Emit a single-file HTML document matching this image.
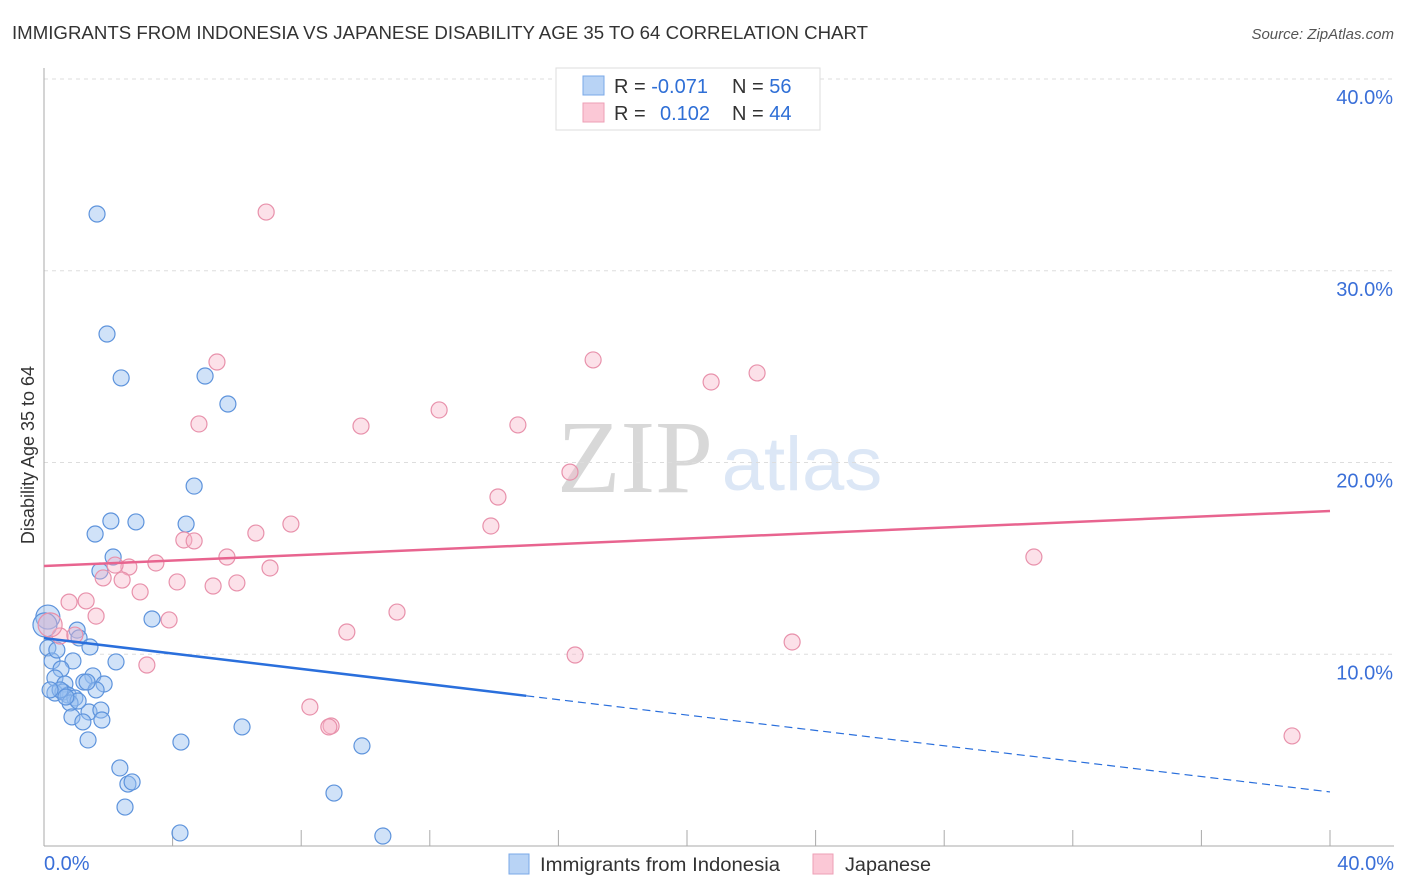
<!DOCTYPE html>
<html><head><meta charset="utf-8"><style>
body{margin:0;background:#fff;font-family:"Liberation Sans",sans-serif;}
svg{display:block}
</style></head><body>
<svg id="chart" width="1406" height="892" xmlns="http://www.w3.org/2000/svg">
<text x="12" y="39" font-size="18" fill="#333" textLength="856" lengthAdjust="spacingAndGlyphs">IMMIGRANTS FROM INDONESIA VS JAPANESE DISABILITY AGE 35 TO 64 CORRELATION CHART</text>
<text x="1394" y="39" font-size="15" fill="#555" font-style="italic" text-anchor="end">Source: ZipAtlas.com</text>
<text x="34" y="455" font-size="18" fill="#333" text-anchor="middle" transform="rotate(-90 34 455)">Disability Age 35 to 64</text>
<text x="635" y="492" font-size="104" fill="#d8d8d8" font-family="Liberation Serif,serif" text-anchor="middle">ZIP</text>
<text x="802" y="490" font-size="76" fill="#dce7f6" text-anchor="middle">atlas</text>
<g id="grid"></g><g id="axes"></g><g id="pts"></g><g id="lines"></g>
<g>
<rect x="556" y="68" width="264" height="62" fill="#fff" stroke="#ddd"/>
<rect x="583" y="76" width="21" height="19" fill="#b8d3f5" stroke="#7aa8e8"/>
<rect x="583" y="103" width="21" height="19" fill="#fbc8d6" stroke="#ee9fb6"/>
<text x="614" y="93" font-size="20" fill="#333">R = <tspan fill="#2f6fd6">-0.071</tspan></text>
<text x="732" y="93" font-size="20" fill="#333">N = <tspan fill="#2f6fd6">56</tspan></text>
<text x="614" y="120" font-size="20" fill="#333">R = <tspan fill="#2f6fd6" x="660">0.102</tspan></text>
<text x="732" y="120" font-size="20" fill="#333">N = <tspan fill="#2f6fd6">44</tspan></text>
</g>
<g>
<rect x="509" y="854" width="20" height="20" fill="#b8d3f5" stroke="#7aa8e8"/>
<text x="540" y="871" font-size="19" fill="#333" textLength="240" lengthAdjust="spacingAndGlyphs">Immigrants from Indonesia</text>
<rect x="813" y="854" width="20" height="20" fill="#fbc8d6" stroke="#ee9fb6"/>
<text x="845" y="871" font-size="19" fill="#333" textLength="86" lengthAdjust="spacingAndGlyphs">Japanese</text>
</g>
</svg>
<script>
const yTicks=[10,20,30,40];
const xTickLabels=["0.0%","40.0%"];
const blueX=[1.65,1.96,2.40,5.01,5.72,4.67,2.08,2.86,1.59,4.42,2.15,1.74,3.36,0.12,1.03,1.09,1.43,0.12,0.25,0.90,2.24,0.53,0.34,1.52,0.65,1.24,1.87,0.34,0.59,0.75,1.62,0.96,0.81,1.40,1.77,0.87,1.21,1.80,1.37,4.26,6.16,9.89,2.36,2.61,2.74,2.52,9.02,4.23,10.54,0.50,0.03,0.40,1.34,1.06,0.68,0.19];
const blueY=[32.96,26.70,24.41,24.51,23.05,18.77,16.95,16.90,16.27,16.79,15.07,14.34,11.84,11.94,11.26,10.85,10.38,10.33,9.65,9.65,9.60,9.23,8.76,8.87,8.45,8.55,8.45,7.98,8.03,7.87,8.14,7.72,7.46,6.99,7.09,6.73,6.47,6.57,5.53,5.42,6.21,5.22,4.07,3.23,3.34,2.03,2.76,0.68,0.52,8.14,11.53,10.22,8.55,7.56,7.77,8.14];
const pinkX=[6.91,5.38,17.08,22.18,20.75,12.29,4.82,9.86,14.74,16.36,14.12,13.90,7.68,6.59,4.35,4.67,5.69,3.48,2.64,1.84,2.43,4.14,5.26,6.00,7.03,2.99,30.79,0.78,1.31,1.62,3.89,10.98,9.42,0.50,0.19,23.27,16.52,3.20,8.27,8.93,8.86,38.82,0.96,2.21];
const pinkY=[33.06,25.24,25.35,24.67,24.20,22.74,22.01,21.90,21.96,19.50,18.20,16.69,16.79,16.32,15.96,15.91,15.07,14.76,14.55,13.98,13.87,13.77,13.56,13.72,14.50,13.25,15.07,12.72,12.78,11.99,11.79,12.20,11.16,10.95,11.53,10.64,9.96,9.44,7.25,6.26,6.21,5.74,11.00,14.65];
const blueTrend=[10.84,2.82];
const pinkTrend=[14.6,17.47];
const X0=44,X1=1330,Y0=846,Y40=79;
const sx=v=>X0+(X1-X0)*v/40, sy=v=>Y0-(Y0-Y40)*v/40;
const NS="http://www.w3.org/2000/svg";
function mk(tag,attrs,parent){const e=document.createElementNS(NS,tag);for(const k in attrs)e.setAttribute(k,attrs[k]);parent.appendChild(e);return e;}
const grid=document.getElementById('grid'),axes=document.getElementById('axes'),pts=document.getElementById('pts'),lines=document.getElementById('lines');
yTicks.forEach(t=>{
  const g=mk('line',{x1:X0,x2:1394,y1:sy(t),y2:sy(t),stroke:'#ddd','stroke-dasharray':'4,4'},grid);
  
  
  const l=mk('text',{x:1393,y:sy(t)+25,'font-size':20,fill:'#3a6fd8','text-anchor':'end'},axes);
  l.textContent=t.toFixed(1)+'%';
  
  
});
const ya=mk('line',{x1:X0,x2:X0,y1:68,y2:846,stroke:'#aaa'},axes);


const xa=mk('line',{x1:X0,x2:1394,y1:846,y2:846,stroke:'#aaa'},axes);


for(let i=0;i<=10;i++){const v=i*4;const t=mk('line',{x1:sx(v),x2:sx(v),y1:830,y2:846,stroke:'#aaa'},axes);
  
  }
const xl0=mk('text',{x:44,y:870,'font-size':20,fill:'#3a6fd8'},axes);xl0.textContent=xTickLabels[0];


const xl1=mk('text',{x:1394,y:870,'font-size':20,fill:'#3a6fd8','text-anchor':'end'},axes);xl1.textContent=xTickLabels[1];


function dots(xs,ys,fill,stroke,name){xs.forEach((x,i)=>{const r=(x<0.2&&ys[i]>11)?12:8;
  const c=mk('circle',{cx:sx(x),cy:sy(ys[i]),r:r,fill:fill,stroke:stroke,'stroke-width':1.2},pts);
  
  });}
dots(blueX,blueY,'rgba(150,190,240,0.45)','#5d93dc','point-indonesia');
dots(pinkX,pinkY,'rgba(248,180,200,0.4)','#e891ab','point-japanese');
const bsplit=15;
const bv=x=>blueTrend[0]+(blueTrend[1]-blueTrend[0])*x/40;
const b1=mk('line',{x1:sx(0),y1:sy(bv(0)),x2:sx(bsplit),y2:sy(bv(bsplit)),stroke:'#2a6fdc','stroke-width':2.5},lines);


const b2=mk('line',{x1:sx(bsplit),y1:sy(bv(bsplit)),x2:sx(40),y2:sy(bv(40)),stroke:'#2a6fdc','stroke-width':1.2,'stroke-dasharray':'8,5'},lines);


const p1=mk('line',{x1:sx(0),y1:sy(pinkTrend[0]),x2:sx(40),y2:sy(pinkTrend[1]),stroke:'#e8648f','stroke-width':2.5},lines);


</script>
</body></html>
